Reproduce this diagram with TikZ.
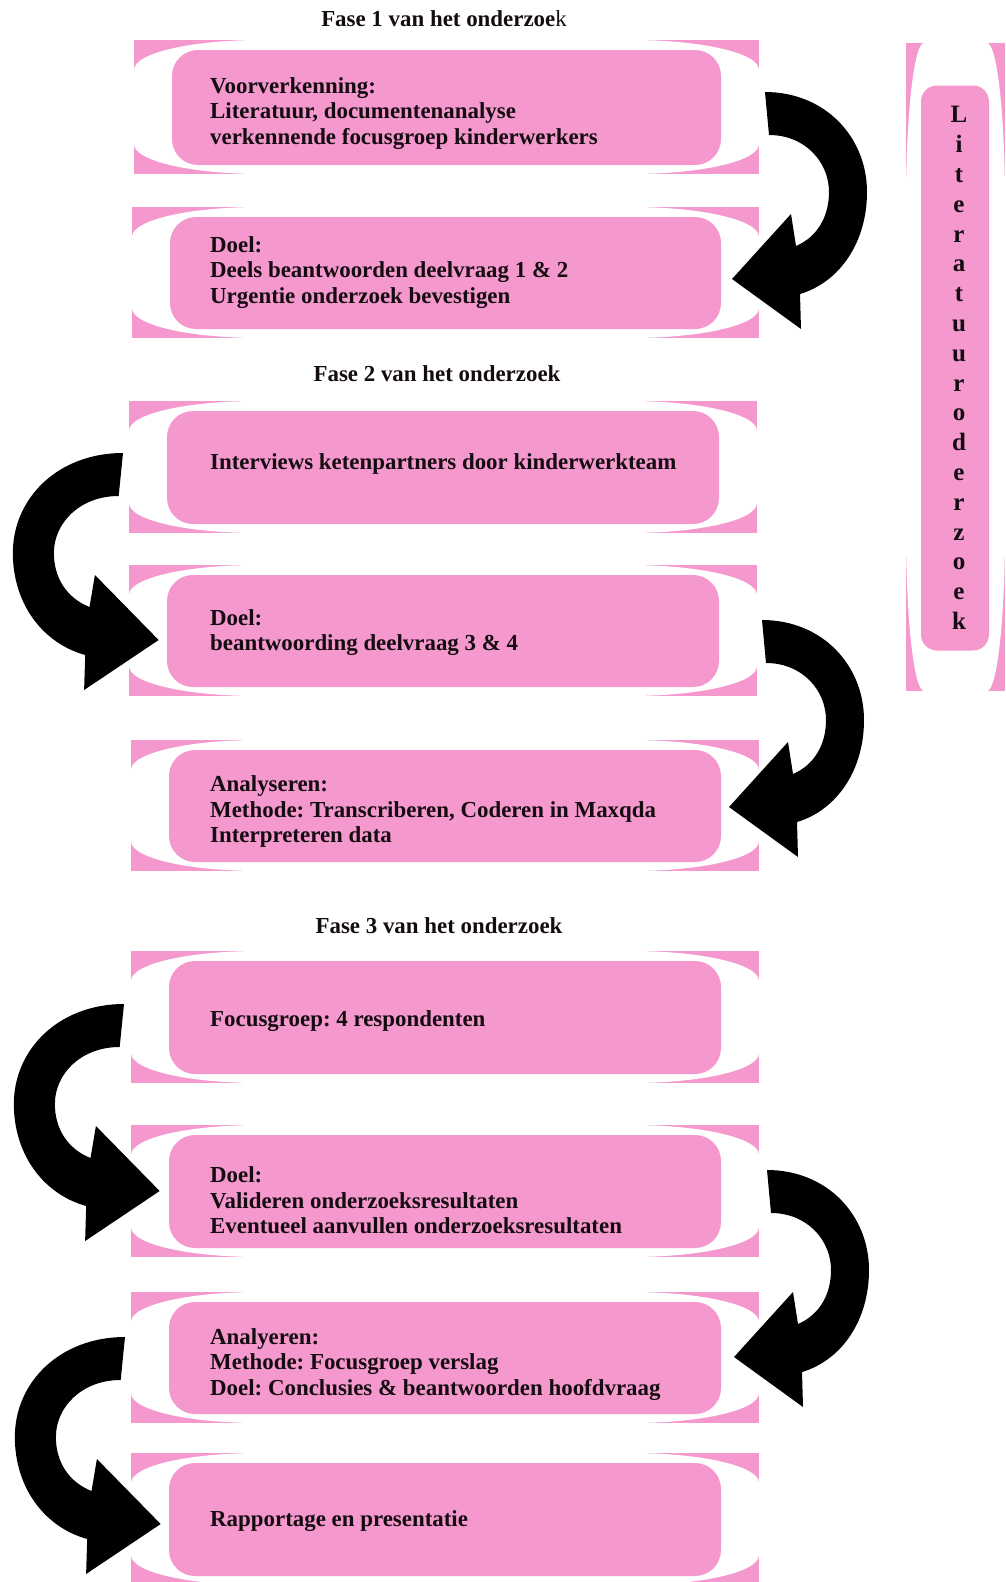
\documentclass[tikz,border=0pt]{standalone}
\usepackage{fontspec}
\setmainfont{Liberation Serif}
\frenchspacing
\definecolor{pk}{RGB}{245,152,206}
\definecolor{ink}{RGB}{20,12,16}
\tikzset{
  txt/.style={font=\bfseries\fontsize{22.9}{25.4}\selectfont, inner sep=0pt, text=ink},
  boxtext/.style={txt, anchor=west, align=left, yshift=-2.5pt},
  innerbox/.style={fill=pk, rounded corners=26pt, inner sep=0pt},
  bigarrow/.style={fill=black},
}
\newcommand\phasebox[7]{% name x1 y1 x2 y2 texty text
  \fill[pk] (#2,#3) rectangle (#4,#5);
  \fill[white] (#2,{#3+30}) .. controls (#2,{#3+13}) and ({#2+57},#3) .. ({#2+128},#3)
     -- ({#4-128},#3) .. controls ({#4-57},#3) and (#4,{#3+13}) .. (#4,{#3+30})
     -- (#4,{#5-30}) .. controls (#4,{#5-13}) and ({#4-57},#5) .. ({#4-128},#5)
     -- ({#2+128},#5) .. controls ({#2+57},#5) and (#2,{#5-13}) .. (#2,{#5-30}) -- cycle;
  \node[innerbox, minimum width={(#4-#2-76)*1pt}, minimum height={(#5-#3-19)*1pt}]
     (#1-bg) at ({(#2+#4)/2},{(#3+#5)/2+0.5}) {};
  \node[boxtext] (#1) at (210,#6) {#7};
}
\newcommand\curvedarrow[4]{% name x y xscale
  \coordinate (#1) at (#2,#3);
  \fill[bigarrow, shift={(#1)}, xscale=#4]
    (0,0) .. controls (60,0) and (102,45) .. (102,100)
    .. controls (102,150) and (75,190) .. (35,202)
    -- (36,237) -- (-33,187) -- (26,122) -- (31,154)
    .. controls (52,145) and (64,125) .. (64,100)
    .. controls (64,70) and (40,43) .. (4,43) -- cycle;
}
\begin{document}
\begin{tikzpicture}[x=1pt,y=-1pt]
\useasboundingbox (0,0) rectangle (1005,1582);
\fill[white] (0,0) rectangle (1005,1582);

% titles
\node[txt] (t1) at (444,19) {Fase 1 van het onderzoe\mdseries k};
\node[txt] (t2) at (437,374) {Fase 2 van het onderzoek};
\node[txt] (t3) at (439,926) {Fase 3 van het onderzoek};

% boxes
\phasebox{b1}{134}{40}{759}{174}{111}{Voorverkenning:\\Literatuur, documentenanalyse\\verkennende focusgroep kinderwerkers}
\phasebox{b2}{132}{207}{759}{338}{270}{Doel:\\Deels beantwoorden deelvraag 1 \& 2\\Urgentie onderzoek bevestigen}
\phasebox{b3}{129}{401}{757}{533}{461}{Interviews ketenpartners door kinderwerkteam}
\phasebox{b4}{129}{565}{757}{696}{630}{Doel:\\beantwoording deelvraag 3 \& 4}
\phasebox{b5}{131}{740}{759}{871}{809}{Analyseren:\\Methode: Transcriberen, Coderen in Maxqda\\Interpreteren data}
\phasebox{b6}{131}{951}{759}{1083}{1019}{Focusgroep: 4 respondenten}
\phasebox{b7}{131}{1125}{759}{1257}{1198}{Doel:\\Valideren onderzoeksresultaten\\Eventueel aanvullen onderzoeksresultaten}
\phasebox{b8}{131}{1292}{759}{1423}{1362}{Analyeren:\\Methode: Focusgroep verslag\\Doel: Conclusies \& beantwoorden hoofdvraag}
\phasebox{b9}{131}{1453}{759}{1585}{1519}{Rapportage en presentatie}

% literatuur side box
\fill[pk] (906,43) rectangle (1005,691);
\fill[white] (906,203) .. controls (906,115) and (914,43) .. (924,43)
   -- (987,43) .. controls (997,43) and (1005,115) .. (1005,203)
   -- (1005,531) .. controls (1005,619) and (997,691) .. (987,691)
   -- (924,691) .. controls (914,691) and (906,619) .. (906,531) -- cycle;
\node[innerbox, rounded corners=16pt, minimum width=68pt, minimum height=565pt] (litbg) at (955,368) {};
\node[txt, align=center, font=\bfseries\fontsize{25}{29.8}\selectfont] (lit) at (959,368)
  {L\\i\\t\\e\\r\\a\\t\\u\\u\\r\\o\\d\\e\\r\\z\\o\\e\\k};

% arrows
\curvedarrow{a1}{765}{92}{1}
\curvedarrow{a2}{123}{453}{-1.08}
\curvedarrow{a3}{762}{620}{1}
\curvedarrow{a4}{124}{1004}{-1.08}
\curvedarrow{a5}{767}{1170}{1}
\curvedarrow{a6}{125}{1337}{-1.08}
\end{tikzpicture}
\end{document}
